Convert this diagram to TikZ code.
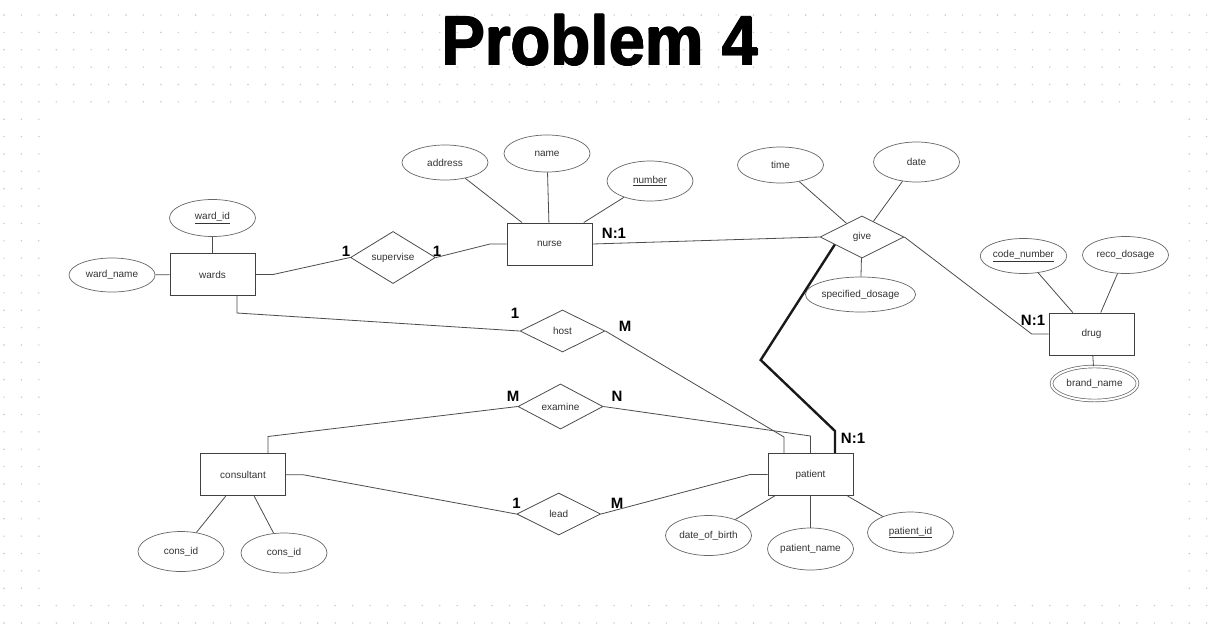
\documentclass[tikz,border=0pt]{standalone}
\usepackage{fontspec}
\setmainfont{Liberation Sans}
\usetikzlibrary{shapes.geometric,calc}
\begin{document}
\begin{tikzpicture}[x=1pt,y=-1pt,
  every node/.style={font=\fontsize{10}{12}\selectfont, text=black!80},
  entity/.style={draw=black!75, line width=0.9pt, minimum width=85pt, minimum height=42pt, inner sep=0pt},
  attr/.style={ellipse, draw=black!60, line width=0.7pt, minimum width=86pt, minimum height=37pt, inner sep=0pt},
  rel/.style={diamond, draw=black!70, line width=0.8pt, minimum width=85pt, minimum height=42pt, inner sep=0pt},
  link/.style={draw=black!70, line width=0.8pt},
  strong/.style={draw=black!90, line width=2.4pt},
  card/.style={font=\bfseries\fontsize{15}{17}\selectfont, text=black, inner sep=0pt},
  headline/.style={font=\bfseries\fontsize{70}{80}\selectfont, text=black, anchor=base, inner sep=0pt}
]
\useasboundingbox (0,0) rectangle (1217,627);

% dotted canvas
\fill[white] (0,0) rectangle (1217,627);
\foreach \i in {0,...,69}
  \foreach \j in {0,...,35}
    \fill[black!22] (4+17.43*\i, 15+17.37*\j) circle[radius=0.8pt];

% white drawing sheet
\fill[white] (48,110) rectangle (1178,594);

% title, set a few times with small offsets for a heavier weight
\foreach \dx/\dy in {-0.6/0, 0.6/0, 0/-0.5, 0/0.5}
  \node[headline] at (600+\dx,65+\dy) {\scalebox{0.935}[1]{Problem 4}};
\node[headline] (title) at (600,65) {\scalebox{0.935}[1]{Problem 4}};

% entities
\node[entity] (wards) at (212.5,274.5) {wards};
\node[entity] (nurse) at (549.5,244) {nurse};
\node[entity] (drug) at (1091.5,334) {drug};
\node[entity] (consultant) at (243,474.7) {consultant};
\node[entity] (patient) at (810.5,474.5) {patient};

% relationships
\node[rel] (supervise) at (393,257.5) {supervise};
\node[rel, minimum width=84pt] (give) at (862,237) {give};
\node[rel] (host) at (562.5,331) {host};
\node[rel] (examine) at (560.5,406.5) {examine};
\node[rel, minimum width=84pt] (lead) at (558.7,514) {lead};

% attributes
\node[attr] (wardid) at (212.5,218) {\underline{ward\_id}};
\node[attr, minimum height=34pt] (wardname) at (112,275) {ward\_name};
\node[attr, minimum height=35pt] (address) at (445,162.5) {address};
\node[attr] (name) at (547,153.5) {name};
\node[attr, minimum height=40pt] (number) at (650,181) {\underline{number}};
\node[attr, minimum height=36pt] (time) at (780.5,165) {time};
\node[attr, minimum height=40pt] (date) at (916.5,162) {date};
\node[attr, minimum height=35pt] (spec) at (860.5,294.5) {specified\_dosage};
\node[attr, minimum height=35pt] (code) at (1023.5,256) {\underline{code\_number}};
\node[attr] (reco) at (1125.5,255) {reco\_dosage};
\node[attr, minimum height=34pt, double, double distance=2pt] (brand) at (1094.5,383.5) {brand\_name};
\node[attr, minimum height=40pt] (cons1) at (181,551.5) {cons\_id};
\node[attr, minimum height=40pt] (cons2) at (284,553) {cons\_id};
\node[attr, minimum height=40pt] (dob) at (708.5,535.5) {date\_of\_birth};
\node[attr, minimum height=42pt] (pname) at (810.5,549) {patient\_name};
\node[attr, minimum height=41pt] (pid) at (910.5,532.5) {\underline{patient\_id}};

% attribute links
\draw[link] (wardid) -- (wards);
\draw[link] (wardname) -- (wards);
\draw[link] (address) -- (nurse);
\draw[link] (name) -- (nurse);
\draw[link] (number) -- (nurse);
\draw[link] (time) -- (give);
\draw[link] (date) -- (give);
\draw[link] (spec) -- (give);
\draw[link] (code) -- (drug);
\draw[link] (reco) -- (drug);
\draw[link] (brand) -- (drug);
\draw[link] (cons1) -- (consultant);
\draw[link] (cons2) -- (consultant);
\draw[link] (dob) -- (patient);
\draw[link] (pname) -- (patient);
\draw[link] (pid) -- (patient);

% bend points of relationship links
\coordinate (ws) at (273,274.5);
\coordinate (sn) at (490,244);
\coordinate (gd) at (1031.7,334);
\coordinate (wh) at (237,313);
\coordinate (hp) at (784,437);
\coordinate (ce) at (268,436.5);
\coordinate (ep) at (810.5,436);
\coordinate (cl) at (303,474.7);
\coordinate (lp) at (750,474.5);
\coordinate (k1) at (760.7,360);
\coordinate (k2) at (835,431);

% relationship links
\draw[link] (wards.east) -- (ws) -- (supervise.west);
\draw[link] (supervise.east) -- (sn) -- (nurse.west);
\draw[link] (nurse.east) -- (give.west);
\draw[link] (give.east) -- (gd) -- (drug.west);
\draw[link] (wards.south -| wh) -- (wh) -- (host.west);
\draw[link] (host.east) -- (hp) -- (hp |- patient.north);
\draw[link] (ce |- consultant.north) -- (ce) -- (examine.west);
\draw[link] (examine.east) -- (ep) -- (patient.north);
\draw[link] (consultant.east) -- (cl) -- (lead.west);
\draw[link] (lead.east) -- (lp) -- (patient.west);
\draw[strong] ($(give.west)!0.357!(give.south)$) -- (k1) -- (k2) -- (k2 |- patient.north);

% cardinalities
\node[card] (c1) at (346,251) {1};
\node[card] (c2) at (437,251) {1};
\node[card] (c3) at (614,233) {N:1};
\node[card] (c4) at (1033,320) {N:1};
\node[card] (c5) at (515,313) {1};
\node[card] (c6) at (625,326) {M};
\node[card] (c7) at (513,396.5) {M};
\node[card] (c8) at (617,396.5) {N};
\node[card] (c9) at (516.5,503.5) {1};
\node[card] (c10) at (617,503.5) {M};
\node[card] (c11) at (853,438) {N:1};
\end{tikzpicture}
\end{document}
